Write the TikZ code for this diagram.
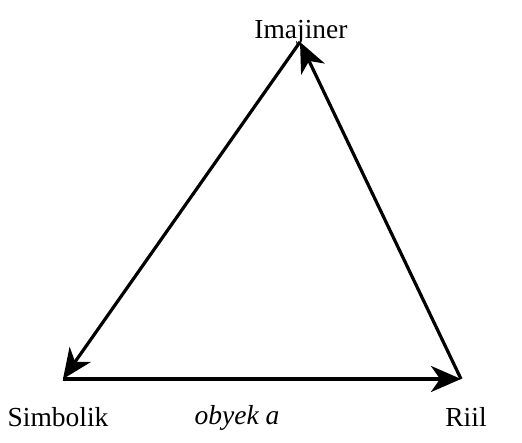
\documentclass[tikz,border=0pt]{standalone}
\usepackage{fontspec}
\setmainfont{Liberation Serif}
\usetikzlibrary{arrows.meta}
\begin{document}
\begin{tikzpicture}[x=1pt,y=1pt,
  edge/.style={line width=3.2pt,-{Stealth[length=30pt,width=26pt,inset=9pt]}},
  lbl/.style={font=\fontsize{27.5}{32}\selectfont,anchor=base,inner sep=0pt}]
\useasboundingbox (0,0) rectangle (522,443);
\coordinate (top) at (300,401);
\coordinate (bl) at (63,64);
\coordinate (br) at (461,64);
\node[lbl] (im) at (301,404) {Imajiner};
\node[lbl] (si) at (58,16) {Simbolik};
\node[lbl] (ob) at (237,18) {\itshape obyek a};
\node[lbl] (ri) at (466,16) {Riil};
\draw[edge] (top) -- (bl);
\draw[edge] (bl) -- (br);
\draw[edge] (br) -- (top);
\end{tikzpicture}
\end{document}
